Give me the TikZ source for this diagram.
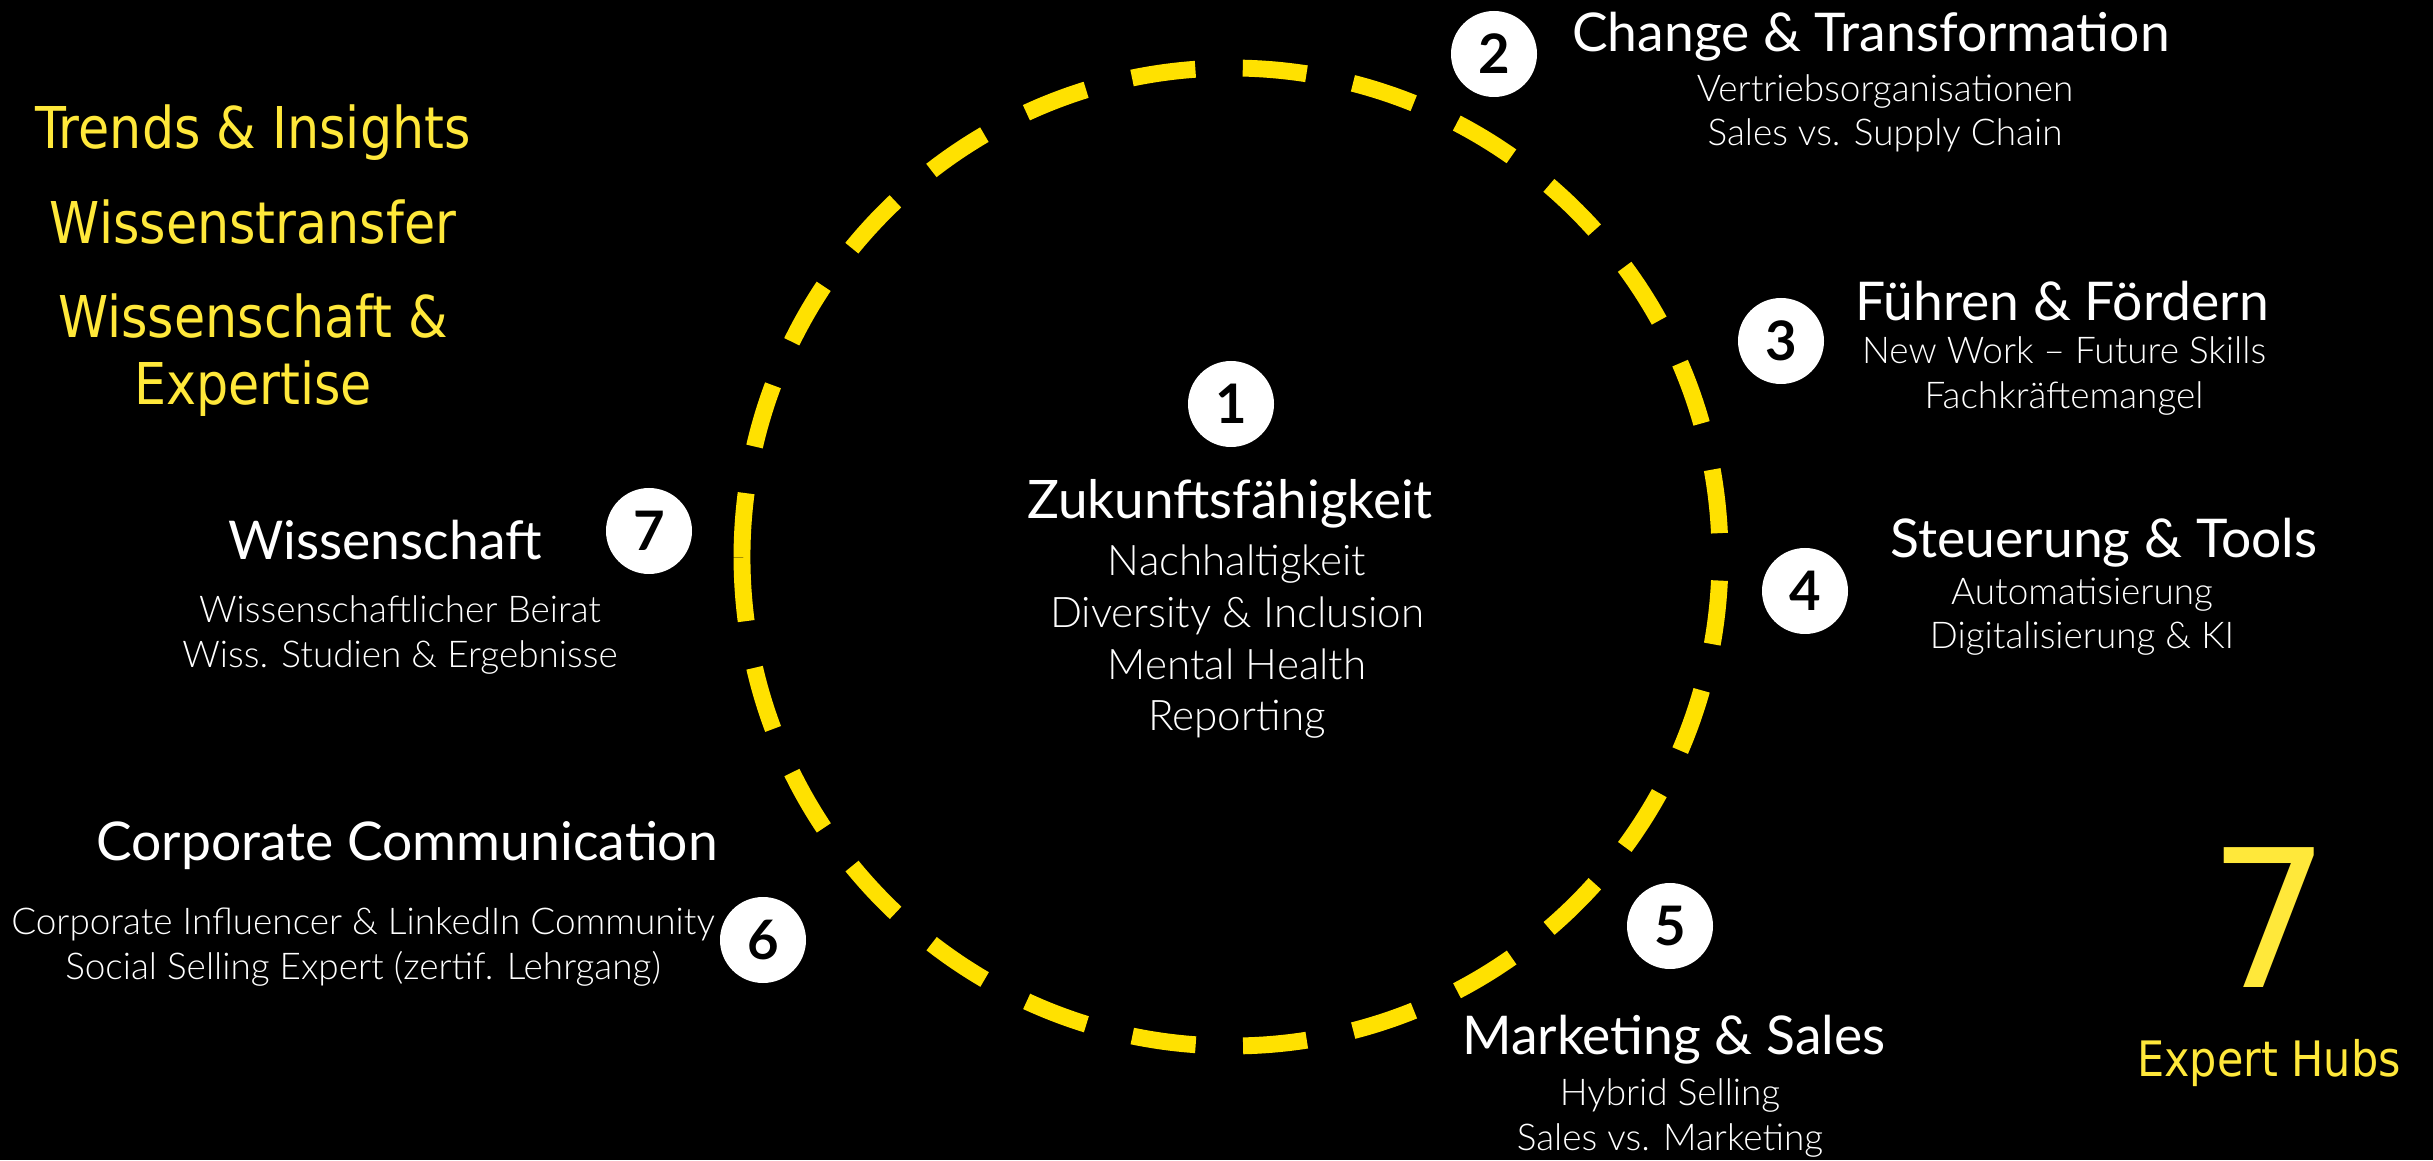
\documentclass[tikz,border=0pt]{standalone}
\usepackage{fontspec}
\setmainfont{Lato}
\newfontfamily\lightfont{Lato Light}
\newfontfamily\hubfont{DejaVu Sans}[FakeStretch=0.88]
\newfontfamily\bigfont{DejaVu Sans}
\definecolor{hubyellow}{HTML}{FFE83A}
\definecolor{ringyellow}{HTML}{FFE100}

\begin{document}
\begin{tikzpicture}
            \tikzstyle{num}=[circle,fill=white,text=black,minimum size=8.6mm,inner sep=0pt,font=\fontsize{15.5}{15.5}\selectfont\bfseries]
            \tikzstyle{head}=[text=white,inner sep=0pt,font=\fontsize{15.2}{18}\selectfont]
            \tikzstyle{sub}=[text=white,align=center,inner sep=0pt,font=\lightfont\fontsize{10.5}{12.6}\selectfont]
            \tikzstyle{gold}=[text=hubyellow,align=center,inner sep=0pt,font=\hubfont\fontsize{16.4}{19}\selectfont]
            \tikzstyle{ring}=[ringyellow,line width=4.8pt,dash pattern=on 0.64cm off 0.4743cm]

            \fill[black] (0,0) rectangle (24.33,11.6);

            \coordinate (mid) at (12.31,6.03);
            \draw[ring] ([shift={(180:4.89)}]mid) arc[start angle=180,end angle=-180,radius=4.89];

            \node [num] (c1) at (12.31,7.56) {1};
            \node [head,font=\fontsize{15.1}{18}\selectfont] (h1) at (12.30,6.56) {Zukunftsfähigkeit};
            \node [sub,font=\lightfont\fontsize{12}{14.7}\selectfont] (s1) at (12.37,5.18)
              {Nachhaltigkeit\\Diversity \& Inclusion\\Mental Health\\Reporting};

            \node [num] (c2) at (14.94,11.06) {2};
            \node [head] (h2) at (18.71,11.23) {Change \& Transformation};
            \node [sub] (s2) at (18.85,10.47) {Vertriebsorganisationen\\Sales vs. Supply Chain};

            \node [num] (c3) at (17.81,8.19) {3};
            \node [head] (h3) at (20.62,8.59) {Führen \& Fördern};
            \node [sub] (s3) at (20.64,7.84) {New Work – Future Skills\\Fachkräftemangel};

            \node [num] (c4) at (18.05,5.69) {4};
            \node [head] (h4) at (21.04,6.17) {Steuerung \& Tools};
            \node [sub] (s4) at (20.82,5.43) {Automatisierung\\Digitalisierung \& KI};

            \node [num] (c5) at (16.70,2.34) {5};
            \node [head] (h5) at (16.74,1.20) {Marketing \& Sales};
            \node [sub] (s5) at (16.70,0.42) {Hybrid Selling\\Sales vs. Marketing};

            \node [num] (c6) at (7.63,2.20) {6};
            \node [head] (h6) at (4.07,3.14) {Corporate Communication};
            \node [sub] (s6) at (3.63,2.13)
              {Corporate Influencer \& LinkedIn Community\\Social Selling Expert (zertif. Lehrgang)};

            \node [num] (c7) at (6.49,6.29) {7};
            \node [head] (h7) at (3.85,6.20) {Wissenschaft};
            \node [sub] (s7) at (4.00,5.25) {Wissenschaftlicher Beirat\\Wiss. Studien \& Ergebnisse};

            \node [gold] (trends) at (2.53,10.27) {Trends \& Insights};
            \node [gold] (transfer) at (2.53,9.38) {Wissenstransfer};
            \node [gold] (expertise) at (2.53,8.05) {Wissenschaft \&\\Expertise};

            \node [gold,font=\bigfont\fontsize{54.6}{56}\selectfont] (seven) at (22.70,2.42) {7};
            \node [gold,font=\hubfont\fontsize{13.9}{16}\selectfont] (hubs) at (22.69,0.97) {Expert Hubs};
        \end{tikzpicture}
\end{document}
